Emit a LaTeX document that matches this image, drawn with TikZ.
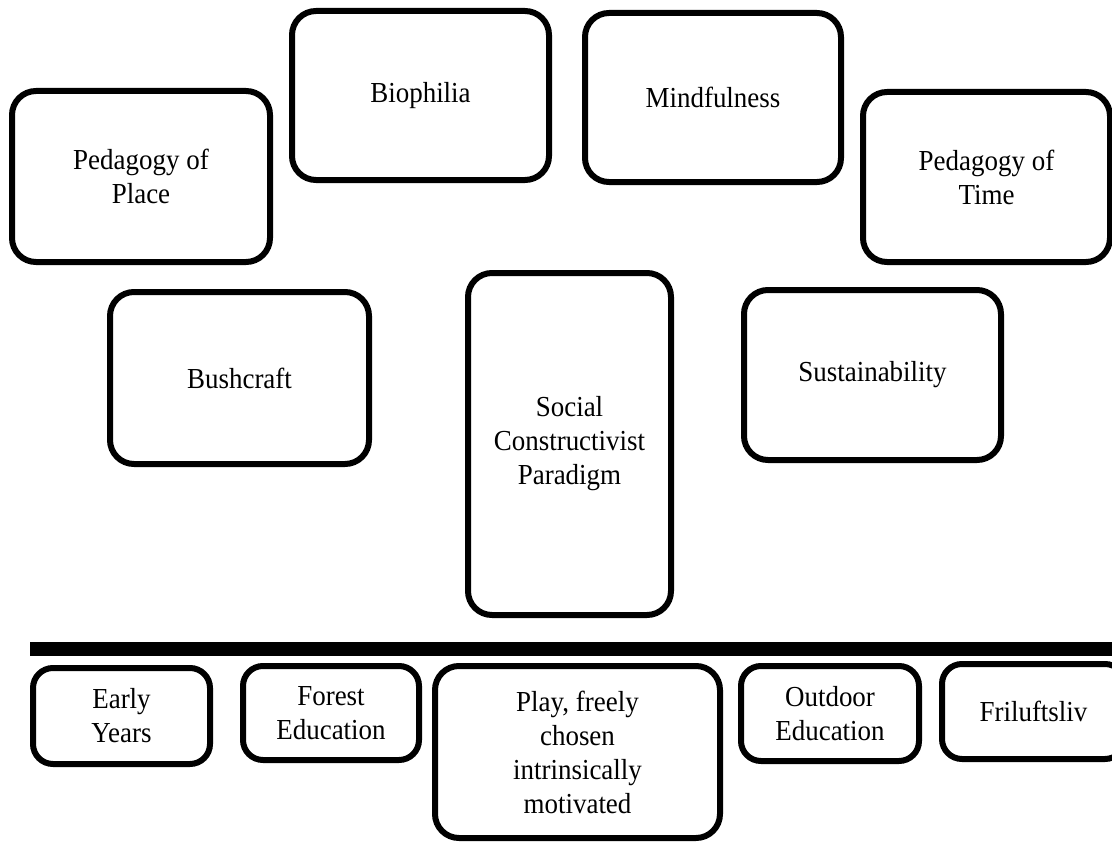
\documentclass[tikz,border=0pt]{standalone}
\usepackage{fontspec}
\setmainfont[FakeStretch=0.93]{Liberation Serif}
\begin{document}
\begin{tikzpicture}[x=1pt, y=-1pt,
        card/.style={draw, line width=6pt, rounded corners=24pt, align=center,
            font=\fontsize{29}{34}\selectfont, inner sep=0pt},
        smallcard/.style={card, rounded corners=20pt}]
        \useasboundingbox (0,0) rectangle (1112,843);

        % Upper ring of concepts
        \node[card, minimum width=258pt, minimum height=171pt] (place) at (141,176.5) {Pedagogy of\\Place};
        \node[card, minimum width=257pt, minimum height=169pt] (biophilia) at (420.5,95.5) {Biophilia};
        \node[card, minimum width=256pt, minimum height=169pt] (mindful) at (713,97.5) {Mindfulness};
        \node[card, minimum width=247pt, minimum height=170pt] (time) at (986.5,177) {Pedagogy of\\Time};
        \node[card, minimum width=259pt, minimum height=172pt] (bushcraft) at (239.5,378) {Bushcraft};
        \node[card, minimum width=257pt, minimum height=170pt] (sustain) at (872.5,375) {Sustainability};

        % Central paradigm
        \node[card, minimum width=203pt, minimum height=342pt] (social) at (569.5,444) {Social\\Constructivist\\Paradigm};

        % Dividing bar
        \fill (30,642) rectangle (1120,656);

        % Lower row of contexts
        \node[smallcard, minimum width=177pt, minimum height=96pt] (early) at (121.5,716) {Early\\Years};
        \node[smallcard, minimum width=176pt, minimum height=94pt] (forest) at (331,713) {Forest\\Education};
        \node[card, minimum width=285pt, minimum height=172pt] (play) at (577.5,752) {Play, freely\\chosen\\intrinsically\\motivated};
        \node[smallcard, minimum width=178pt, minimum height=95pt] (outdoor) at (830,713.5) {Outdoor\\Education};
        \node[smallcard, minimum width=183pt, minimum height=95pt] (friluftsliv) at (1033.5,711.5) {Friluftsliv};
    \end{tikzpicture}
\end{document}
